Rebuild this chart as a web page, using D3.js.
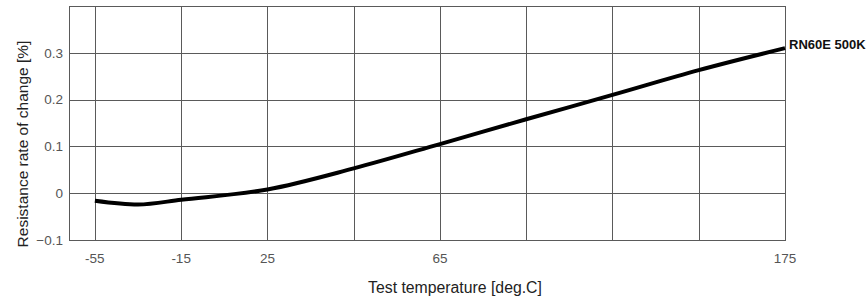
<!DOCTYPE html>
<html>
<head>
<meta charset="utf-8">
<script src="https://cdnjs.cloudflare.com/ajax/libs/d3/7.8.5/d3.min.js"></script>
<style>
  body { margin: 0; background: #fff; }
  text { font-family: "Liberation Sans", Arial, sans-serif; }
</style>
</head>
<body>
<script>
// chart data
var xTickLabels = ["-55", "-15", "25", "", "65", "", "", "", "175"];
var yTicks = [-0.1, 0, 0.1, 0.2, 0.3];
var seriesName = "RN60E 500K";
// x position in grid steps, value in %
var seriesX = [0, 0.5, 1, 2, 3, 4, 5, 6, 7, 8];
var seriesY = [-0.016, -0.024, -0.014, 0.008, 0.053, 0.105, 0.158, 0.21, 0.263, 0.31];

var width = 868,
    height = 302;
var margin = {left: 69, top: 6, right: 83, bottom: 62};

var svg = d3.select("body").append("svg")
    .attr("width", width)
    .attr("height", height);

var x = d3.scaleLinear()
    .domain([-0.3, 8])
    .range([margin.left, width - margin.right]);

var y = d3.scaleLinear()
    .domain([-0.1, 0.4])
    .range([height - margin.bottom, margin.top]);

var g = svg.append("g");

// horizontal gridlines
g.selectAll(".hgrid")
  .data(yTicks)
  .enter().append("line")
    .attr("class", "hgrid")
    .attr("x1", x.range()[0]).attr("x2", x.range()[1])
    .attr("y1", function(d){ return Math.round(y(d)) + 0.5; })
    .attr("y2", function(d){ return Math.round(y(d)) + 0.5; })
    .attr("stroke", "#5a5a5a");

// vertical gridlines
g.selectAll(".vgrid")
  .data(d3.range(xTickLabels.length))
  .enter().append("line")
    .attr("class", "vgrid")
    .attr("y1", y.range()[0]).attr("y2", y.range()[1])
    .attr("x1", function(d){ return Math.round(x(d)) + 0.5; })
    .attr("x2", function(d){ return Math.round(x(d)) + 0.5; })
    .attr("stroke", "#5a5a5a");

// frame
g.append("rect")
    .attr("x", Math.round(x.range()[0]) + 0.5)
    .attr("y", Math.round(y.range()[1]) + 0.5)
    .attr("width", Math.round(x.range()[1]) - Math.round(x.range()[0]))
    .attr("height", Math.round(y.range()[0]) - Math.round(y.range()[1]))
    .attr("fill", "none")
    .attr("stroke", "#5a5a5a");

// y tick labels
g.selectAll(".ylabel")
  .data(yTicks)
  .enter().append("text")
    .attr("class", "ylabel")
    .attr("x", margin.left - 6)
    .attr("y", function(d){ return y(d); })
    .attr("dy", "0.35em")
    .attr("text-anchor", "end")
    .attr("font-size", 13.5)
    .attr("fill", "#555")
    .text(function(d){ return d === 0 ? "0" : d3.format(".1f")(d); });

// x tick labels
g.selectAll(".xlabel")
  .data(xTickLabels)
  .enter().append("text")
    .attr("class", "xlabel")
    .attr("x", function(d, i){ return x(i); })
    .attr("y", y.range()[0] + 23)
    .attr("text-anchor", "middle")
    .attr("font-size", 13.5)
    .attr("fill", "#555")
    .text(function(d){ return d; });

// axis titles
svg.append("text")
    .attr("x", 455)
    .attr("y", 293)
    .attr("text-anchor", "middle")
    .attr("font-size", 15.8)
    .attr("fill", "#222")
    .text("Test temperature [deg.C]");

svg.append("text")
    .attr("transform", "translate(28,144) rotate(-90)")
    .attr("text-anchor", "middle")
    .attr("font-size", 15.5)
    .attr("fill", "#222")
    .text("Resistance rate of change [%]");

// the curve
var points = seriesX.map(function(d, i){ return [d, seriesY[i]]; });
var line = d3.line()
    .x(function(d){ return x(d[0]); })
    .y(function(d){ return y(d[1]); })
    .curve(d3.curveMonotoneX);

g.append("path")
    .datum(points)
    .attr("d", line)
    .attr("fill", "none")
    .attr("stroke", "#000")
    .attr("stroke-width", 4)
    .attr("stroke-linecap", "butt");

// series label
var last = points[points.length - 1];
g.append("text")
    .attr("x", x(last[0]) + 4)
    .attr("y", 49)
    .attr("font-size", 13)
    .attr("font-weight", "bold")
    .attr("fill", "#111")
    .text(seriesName);
</script>
</body>
</html>
